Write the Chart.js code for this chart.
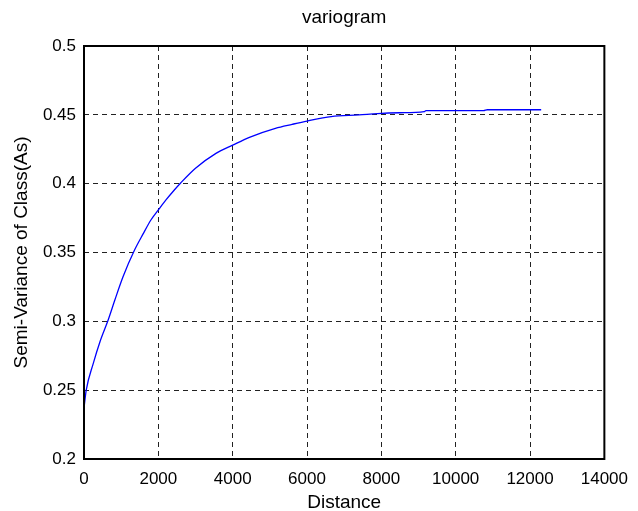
<!DOCTYPE html>
<html>
<head>
<meta charset="utf-8">
<script src="https://cdn.jsdelivr.net/npm/chart.js@4.4.1/dist/chart.umd.min.js"></script>
<style>
  html, body { margin: 0; padding: 0; background: #fff; }
  canvas { display: block; }
</style>
</head>
<body>
<canvas id="c" width="638" height="511"></canvas>
<script>
// Data
const distance = [0, 60, 250, 430, 650, 830, 1050, 1360, 1590, 1800, 2000, 2200, 2430, 2600, 3000, 3550, 4000, 4450, 5150, 5600, 6000, 6650, 7400, 7900, 8500, 9150, 9200, 10750, 10850, 12300];
const semiVariance = [0.237, 0.25, 0.2695, 0.2852, 0.301, 0.3155, 0.3324, 0.3518, 0.3635, 0.3736, 0.3809, 0.388, 0.3954, 0.4005, 0.4112, 0.422, 0.428, 0.4337, 0.4402, 0.4431, 0.4455, 0.4487, 0.4499, 0.4509, 0.4515, 0.4523, 0.453, 0.453, 0.4537, 0.4537];
const xTicks = [0, 2000, 4000, 6000, 8000, 10000, 12000, 14000];
const yTicks = [0.2, 0.25, 0.3, 0.35, 0.4, 0.45, 0.5];
const chartTitle = 'variogram';
const xLabel = 'Distance';
const yLabel = 'Semi-Variance of Class(As)';

const points = distance.map((d, i) => ({ x: d, y: semiVariance[i] }));
const FONT = "'Liberation Sans', Arial, Helvetica, sans-serif";

const frame = {
  id: 'frame',
  afterDraw(chart) {
    const { ctx, chartArea: a } = chart;
    ctx.save();
    ctx.strokeStyle = '#000';
    ctx.lineWidth = 2;
    ctx.strokeRect(a.left, a.top, a.right - a.left, a.bottom - a.top);
    ctx.restore();
  }
};

new Chart(document.getElementById('c'), {
  type: 'line',
  data: {
    datasets: [{
      data: points,
      borderColor: '#0000ff',
      borderWidth: 1.3,
      pointRadius: 0,
      fill: false,
      cubicInterpolationMode: 'monotone'
    }]
  },
  options: {
    responsive: false,
    animation: false,
    layout: { padding: { left: 0, right: 30, top: 0, bottom: 0 } },
    plugins: {
      legend: { display: false },
      tooltip: { enabled: false },
      title: {
        display: true,
        text: chartTitle,
        fullSize: false,
        color: '#000',
        font: { family: FONT, size: 19, weight: 'normal' },
        padding: { top: 6, bottom: 17.2 }
      }
    },
    scales: {
      x: {
        type: 'linear',
        min: xTicks[0],
        max: xTicks[xTicks.length - 1],
        afterBuildTicks: s => { s.ticks = xTicks.map(v => ({ value: v })); },
        afterFit: s => { s.height = 52; },
        ticks: {
          color: '#000',
          padding: 10,
          maxRotation: 0,
          font: { family: FONT, size: 17 },
          callback: v => String(v)
        },
        grid: { color: '#222', lineWidth: 1, drawTicks: false },
        border: { display: false, dash: [5, 4] },
        title: {
          display: true,
          text: xLabel,
          color: '#000',
          font: { family: FONT, size: 19 },
          padding: { top: 0, bottom: -3 }
        }
      },
      y: {
        type: 'linear',
        min: yTicks[0],
        max: yTicks[yTicks.length - 1],
        afterBuildTicks: s => { s.ticks = yTicks.map(v => ({ value: v })); },
        afterFit: s => { s.width = 84; },
        ticks: {
          color: '#000',
          padding: 8,
          font: { family: FONT, size: 17 },
          callback: v => String(Math.round(v * 100) / 100)
        },
        grid: { color: '#222', lineWidth: 1, drawTicks: false },
        border: { display: false, dash: [5, 4] },
        title: {
          display: true,
          text: yLabel,
          color: '#000',
          font: { family: FONT, size: 19 },
          padding: { top: 10, bottom: 0 }
        }
      }
    }
  },
  plugins: [frame]
});
</script>
</body>
</html>
